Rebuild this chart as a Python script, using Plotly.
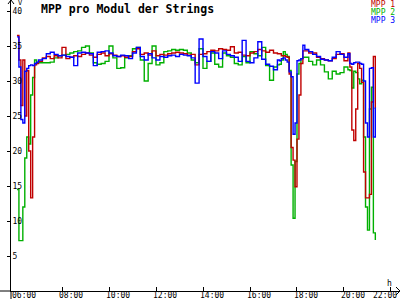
import plotly.graph_objects as go

DAY = "2024-06-01 "

times = [
    "06:05", "06:10", "06:15", "06:20", "06:25", "06:30", "06:35", "06:40", "06:45", "06:50", "06:55", "07:00",
    "07:10", "07:20", "07:30", "07:40", "07:50",
    "08:00", "08:10", "08:20", "08:30", "08:40", "08:50",
    "09:00", "09:10", "09:20", "09:30", "09:40", "09:50",
    "10:00", "10:10", "10:20", "10:30", "10:40", "10:50",
    "11:00", "11:10", "11:20", "11:30", "11:40", "11:50",
    "12:00", "12:10", "12:20", "12:30", "12:40", "12:50",
    "13:00", "13:10", "13:20", "13:30", "13:40", "13:50",
    "14:00", "14:10", "14:20", "14:30", "14:40", "14:50",
    "15:00", "15:10", "15:20", "15:30", "15:40", "15:50",
    "16:00", "16:10", "16:20", "16:30", "16:40", "16:50",
    "17:00", "17:10",
    "17:15", "17:20", "17:25", "17:30", "17:35", "17:40", "17:45", "17:50", "17:55", "18:00", "18:05", "18:10", "18:15",
    "18:20", "18:30", "18:40", "18:50", "19:00", "19:10", "19:20", "19:30", "19:40", "19:50", "20:00", "20:10",
    "20:15", "20:20", "20:25", "20:30", "20:35", "20:40", "20:45", "20:50", "20:55", "21:00", "21:05", "21:10", "21:15", "21:20",
]

mpp1 = [
    36.5, 33.0, 26.5, 33.0, 25.0, 31.5, 20.0, 13.3, 22.0, 32.3, 32.5, 32.8,
    33.3, 33.5, 33.2, 33.6, 33.3,
    34.8, 33.2, 33.4, 33.6, 33.5, 33.8,
    34.0, 33.7, 33.4, 33.8, 34.0, 33.6,
    33.9, 33.7, 33.5, 33.6, 33.4, 33.5,
    34.2, 34.6, 33.8, 34.0, 33.7, 34.3,
    33.6, 33.8, 33.7, 33.9, 34.0, 34.1,
    34.0, 33.9, 33.7, 33.8, 32.3, 33.8,
    33.9, 34.2, 34.4, 34.3, 34.6, 34.5,
    34.4, 34.9, 34.0, 34.1, 33.7, 33.6,
    34.0, 34.2, 34.5, 34.3, 34.1, 34.4,
    34.0, 33.9,
    33.9, 33.6, 33.6, 33.5, 33.4, 31.0, 20.5, 18.7, 14.9, 21.7, 28.0, 32.5, 34.3,
    34.3, 34.0, 34.0, 33.4, 33.2, 33.0, 32.9, 33.2, 33.8, 33.9, 32.9, 34.0,
    32.0, 23.0, 21.5, 26.0, 32.5, 31.8, 29.8, 17.0, 13.3, 13.3, 13.8, 27.0, 33.5, 26.0,
]

mpp2 = [
    14.5, 7.2, 7.2, 12.0, 19.0, 22.0, 21.0, 28.0, 30.5, 33.0, 32.6, 32.6,
    32.6, 32.6, 32.7, 33.3, 33.6,
    33.7, 33.8, 34.0, 34.2, 34.3, 34.8,
    35.0, 34.0, 32.6, 32.4, 32.5, 32.8,
    35.0, 33.3, 31.8, 31.9, 33.3, 33.6,
    34.6, 34.8, 33.0, 30.0, 32.5, 35.0,
    32.3, 32.6, 34.2, 34.3, 34.5, 34.4,
    34.5, 34.4, 34.0, 33.0, 32.6, 34.6,
    31.8, 32.8, 34.0, 32.4, 32.0, 34.0,
    33.6, 33.4, 32.5, 32.3, 33.5, 32.6,
    34.2, 33.9, 33.6, 34.8, 32.2, 30.1,
    32.0, 32.3,
    32.4, 33.0, 34.2, 33.8, 33.5, 31.5, 18.0, 10.4, 18.5, 31.0, 32.5, 33.2, 33.4,
    33.4, 32.8, 32.3, 33.0, 32.3, 31.3, 30.3, 31.4, 31.0, 31.2, 32.0, 31.6,
    31.5, 29.0, 31.4, 31.2, 30.3, 29.6, 30.1, 22.0, 12.0, 8.7, 26.0, 29.1, 8.3, 7.3,
]

mpp3 = [
    36.3, 32.0, 24.5, 24.0, 31.4, 31.8, 32.2, 32.3, 32.2, 32.5, 32.7, 33.0,
    33.2, 33.9, 34.1, 33.8, 33.6,
    33.7, 33.5, 33.4, 32.2, 34.0, 34.1,
    34.0, 33.9, 32.2, 34.1, 34.2, 34.3,
    34.0, 33.6, 33.5, 33.7, 33.6, 33.2,
    34.0, 34.8, 33.5, 33.0, 33.9, 33.3,
    33.0, 33.5, 33.4, 33.6, 33.7, 33.5,
    33.8, 33.7, 33.6, 33.3, 29.7, 36.0,
    33.5, 32.8, 34.2, 34.0, 33.2, 34.3,
    33.8, 33.6, 33.4, 32.8, 35.8, 32.8,
    32.6, 33.3, 35.6, 33.1, 32.4, 32.1,
    31.6, 33.0,
    32.9, 33.2, 33.3, 33.0, 32.7, 31.3, 30.6, 22.4, 24.0, 32.9, 33.0, 33.2, 35.1,
    34.5, 34.2, 33.8, 33.5, 33.1, 33.0, 32.9, 33.4, 34.2, 33.8, 33.4, 33.9,
    32.5, 32.4, 32.6, 32.7, 32.7, 32.5, 32.4, 30.0, 24.0, 22.0, 31.8, 31.9, 22.0, 26.2,
]

series_names = ["MPP 1", "MPP 2", "MPP 3"]
series_colors = ["#c00000", "#00b000", "#0000ff"]
y_ticks = [5, 10, 15, 20, 25, 30, 35, 40]
x_tick_labels = ["06:00", "08:00", "10:00", "12:00", "14:00", "16:00", "18:00", "20:00", "22:00"]
title_text = "MPP pro Modul der Strings"
y_unit = "V"
x_unit = "h"

W, H = 400, 300
PLOT_L = 11
PLOT_B = 9
PLOT_W = W - PLOT_L
PLOT_H = H - PLOT_B
MONO = "DejaVu Sans Mono"


def px(xp):
    return (xp - PLOT_L) / PLOT_W


def py(yp):
    return (PLOT_H - yp) / PLOT_H


x = [DAY + t for t in times]
values = [mpp1, mpp2, mpp3]

fig = go.Figure()
for idx in [1, 0, 2]:
    fig.add_trace(go.Scatter(
        x=x, y=values[idx], mode="lines", name=series_names[idx],
        line=dict(color=series_colors[idx], width=1.4, shape="hv"), showlegend=False,
    ))

fig.update_layout(
    width=W, height=H,
    margin=dict(l=PLOT_L, r=0, t=0, b=PLOT_B, pad=0),
    paper_bgcolor="white", plot_bgcolor="white",
    showlegend=False,
    xaxis=dict(
        type="date",
        range=[DAY + "05:49:47", DAY + "22:23:00"],
        tickvals=[DAY + t for t in x_tick_labels],
        ticktext=x_tick_labels,
        showticklabels=False,
        ticks="inside", ticklen=4, tickcolor="black", tickwidth=1,
        showline=True, linecolor="black", linewidth=1,
        showgrid=False, zeroline=False,
    ),
    yaxis=dict(
        range=[0, PLOT_H / 7.0],
        tickvals=y_ticks, ticktext=[str(v) for v in y_ticks],
        ticks="outside", ticklen=3, tickcolor="black", tickwidth=1,
        ticklabelposition="inside",
        showline=True, linecolor="black", linewidth=1,
        showgrid=False, zeroline=False,
        tickfont=dict(family=MONO, size=8, color="black"),
    ),
)

shapes = [
    dict(type="path", xref="paper", yref="paper",
         path=f"M {px(8)},{py(4)} L {px(11)},{py(0)} L {px(14)},{py(4)}",
         line=dict(color="black", width=1)),
    dict(type="path", xref="paper", yref="paper",
         path=f"M {px(396)},{py(287)} L {px(400)},{py(291)} L {px(396)},{py(295)}",
         line=dict(color="black", width=1)),
    dict(type="line", xref="paper", yref="paper",
         x0=px(11), x1=px(11), y0=py(291), y1=py(299),
         line=dict(color="black", width=1)),
    dict(type="line", xref="paper", yref="paper",
         x0=px(0), x1=px(11), y0=py(291), y1=py(291),
         line=dict(color="black", width=1)),
]
fig.update_layout(shapes=shapes)

annotations = [
    dict(text=f"<b>{title_text}</b>", xref="paper", x=px(39), y=py(8.5), xanchor="left", yanchor="middle",
         font=dict(family=MONO, size=11.5, color="black")),
    dict(text=y_unit, xref="paper", x=px(16), y=py(3), xanchor="left", yanchor="middle",
         font=dict(family=MONO, size=7, color="black")),
    dict(text=x_unit, xref="paper", x=px(389), y=py(283), xanchor="center", yanchor="middle",
         font=dict(family=MONO, size=8, color="black")),
]
legend_y = [4.5, 12.5, 20.5]
for name, col, ly in zip(series_names, series_colors, legend_y):
    annotations.append(dict(text=name, xref="paper", x=px(396), y=py(ly), xanchor="right", yanchor="middle",
                            borderpad=0, font=dict(family=MONO, size=8, color=col)))
for i, lab in enumerate(x_tick_labels):
    last = i == len(x_tick_labels) - 1
    annotations.append(dict(text=lab, xref="x", x=DAY + lab, y=py(295.5),
                            xanchor="left", yanchor="middle",
                            xshift=(-19 if last else -4), borderpad=0,
                            font=dict(family=MONO, size=8, color="black")))
for a in annotations:
    a.update(yref="paper", showarrow=False)
fig.update_layout(annotations=annotations)

fig.write_html("out.html")
